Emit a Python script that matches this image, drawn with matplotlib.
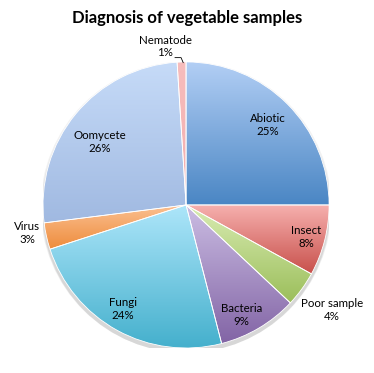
import numpy as np
import matplotlib
matplotlib.use("Agg")
import matplotlib.pyplot as plt
from matplotlib.colors import LinearSegmentedColormap

plt.rcParams['font.family'] = ['Lato', 'DejaVu Sans']

title = "Diagnosis of vegetable samples"
categories = ["Abiotic", "Insect", "Poor sample", "Bacteria", "Fungi", "Virus", "Oomycete", "Nematode"]
values = [25, 8, 4, 9, 24, 3, 26, 1]
top_colors = ["#b3cff5", "#f6b0ae", "#d9ecb3", "#cbbde3", "#aee6fa", "#fbc193", "#c6dbf8", "#f7bdbd"]
bottom_colors = ["#4a86c4", "#c8504b", "#9bbe5a", "#8264a5", "#41aecb", "#ee8c3c", "#a0b9e1", "#f2aeae"]
# label anchor positions (in pie-radius units)
label_pos = [(0.573, 0.559), (0.839, -0.224), (1.021, -0.734), (0.385, -0.769),
             (-0.441, -0.727), (-1.112, -0.196), (-0.601, 0.441), (-0.147, 1.108)]

fig = plt.figure(figsize=(3.74, 3.73), dpi=100)
ax = fig.add_axes([0.115, 0.067, 0.765, 0.767])

# soft shadow
for k, a in enumerate([0.05, 0.05, 0.06]):
    sh = plt.Circle((0.0, -0.015 - 0.006 * k), 1.0 + 0.006 * (3 - k), color="#000000", alpha=a, lw=0, zorder=0)
    ax.add_patch(sh)

wedges, _ = ax.pie(values, startangle=90, counterclock=False, radius=1.0,
                   wedgeprops=dict(linewidth=0.6, edgecolor="white"))

for w, c1, c2 in zip(wedges, top_colors, bottom_colors):
    verts = w.get_path().vertices
    y0, y1 = verts[:, 1].min(), verts[:, 1].max()
    x0, x1 = verts[:, 0].min(), verts[:, 0].max()
    cmap = LinearSegmentedColormap.from_list("g", [c2, c1])
    grad = np.linspace(0, 1, 256).reshape(-1, 1)
    im = ax.imshow(grad, cmap=cmap, extent=[x0, x1, y0, y1], origin="lower",
                   aspect="auto", zorder=1.5, interpolation="bilinear")
    im.set_clip_path(w)
    w.set_facecolor("none")
    w.set_zorder(2)

for name, v, (x, y) in zip(categories, values, label_pos):
    ax.text(x, y, f"{name}\n{v}%", ha="center", va="center",
            fontsize=8.3, linespacing=1.15, zorder=5)

# leader line for the Nematode label
ax.plot([-0.077, -0.035, -0.02], [1.03, 1.03, 0.995], color="black", lw=0.6, zorder=5, clip_on=False)

ax.set_xlim(-1, 1)
ax.set_ylim(-1, 1)
ax.set_aspect("equal")
ax.axis("off")

fig.text(0.5, 0.953, title, ha="center", va="center", fontsize=12.0, fontweight="bold")

fig.savefig("out.png", dpi=100)
